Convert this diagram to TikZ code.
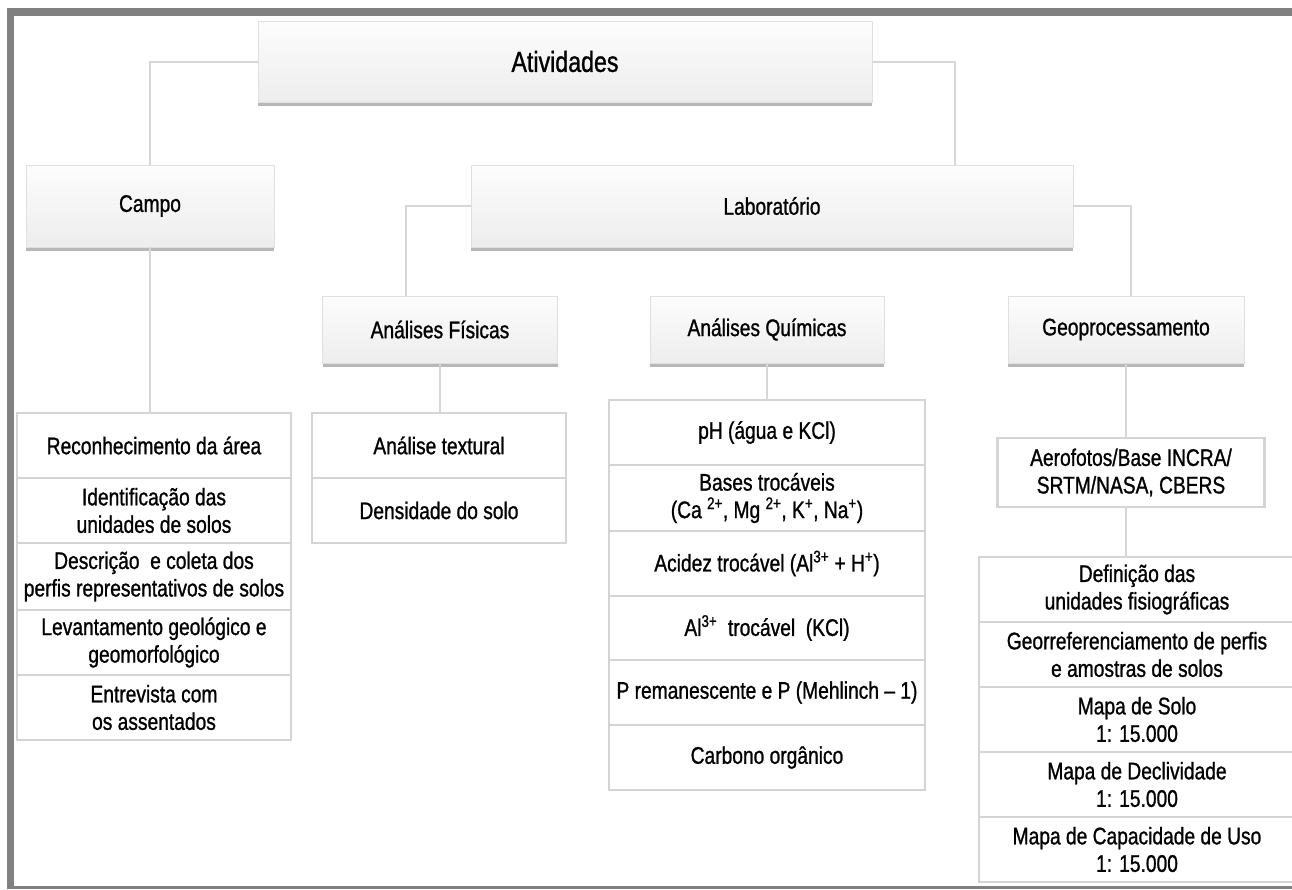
\documentclass[tikz,border=0pt]{standalone}
\usepackage{fontspec}
\setmainfont{Liberation Sans}[FakeStretch=0.8,FakeBold=1]
\usetikzlibrary{shadows,calc}
\newcommand\fsA{\fontsize{24}{27.5}\selectfont}
\newcommand\fsB{\fontsize{29}{32}\selectfont}
\definecolor{framegray}{HTML}{808080}
\definecolor{linegray}{HTML}{D6D6D6}
\definecolor{rowgray}{HTML}{D4D4D4}
\tikzset{
  hdr/.style={rectangle, draw=black!12, line width=1pt, top color=black!1, bottom color=black!7,
    drop shadow={shadow xshift=0pt, shadow yshift=-4pt, fill=black!35, opacity=0.8},
    text=black, inner sep=0pt, outer sep=0pt, font=\fsA},
  rowbox/.style={rectangle, draw=rowgray, line width=2.5pt, fill=white, align=center,
    text=black, inner sep=0pt, outer sep=0pt, font=\fsA},
  link/.style={draw=linegray, line width=2pt},
}
\begin{document}
\begin{tikzpicture}[x=1pt,y=-1pt]
\useasboundingbox (0,0) rectangle (1292,889);
\fill[white] (0,0) rectangle (1292,889);
% frame
\fill[framegray] (7,8) rectangle (1292,16);
\fill[framegray] (7,8) rectangle (14,889);
\fill[framegray] (7,885.5) rectangle (1292,889);

% header boxes
\node[hdr, minimum width=614pt, minimum height=81pt, font=\fsB] (ativ) at (565,61.5) {Atividades};
\node[hdr, minimum width=248pt, minimum height=82pt] (campo) at (150,206) {Campo};
\node[hdr, minimum width=602pt, minimum height=82pt] (lab) at (772,206) {Laboratório};
\node[hdr, minimum width=235pt, minimum height=67pt] (af) at (440,329.5) {Análises Físicas};
\node[hdr, minimum width=234pt, minimum height=67pt] (aq) at (767,329.5) {Análises Químicas};
\node[hdr, minimum width=236pt, minimum height=67pt] (geo) at (1126,329.5) {Geoprocessamento};

% Campo list
\node[rowbox, minimum width=274pt, minimum height=65pt] (c1) at (154,445.5) {Reconhecimento da área};
\node[rowbox, minimum width=274pt, minimum height=65pt] (c2) at (154,510.5) {Identificação das\\unidades de solos};
\node[rowbox, minimum width=274pt, minimum height=67pt] (c3) at (154,576.5) {Descrição\ \ e coleta dos\\perfis representativos de solos};
\node[rowbox, minimum width=274pt, minimum height=65pt] (c4) at (154,642.5) {Levantamento geológico e\\geomorfológico};
\node[rowbox, minimum width=274pt, minimum height=65pt] (c5) at (154,707.5) {Entrevista com\\os assentados};

% Analises Fisicas list
\node[rowbox, minimum width=254pt, minimum height=65pt] (f1) at (439,445.5) {Análise textural};
\node[rowbox, minimum width=254pt, minimum height=65pt] (f2) at (439,510.5) {Densidade do solo};

% Analises Quimicas list
\node[rowbox, minimum width=316pt, minimum height=65pt] (q1) at (767,432.5) {pH (água e KCl)};
\node[rowbox, minimum width=316pt, minimum height=66pt] (q2) at (767,498) {Bases trocáveis\\(Ca \textsuperscript{2+}, Mg \textsuperscript{2+}, K\textsuperscript{+}, Na\textsuperscript{+})};
\node[rowbox, minimum width=316pt, minimum height=65pt] (q3) at (767,563.5) {Acidez trocável (Al\textsuperscript{3+} + H\textsuperscript{+})};
\node[rowbox, minimum width=316pt, minimum height=64pt] (q4) at (767,628) {Al\textsuperscript{3+}\ \ trocável\ \ (KCl)};
\node[rowbox, minimum width=316pt, minimum height=65pt] (q5) at (767,692.5) {P remanescente e P (Mehlinch – 1)};
\node[rowbox, minimum width=316pt, minimum height=65pt] (q6) at (767,757.5) {Carbono orgânico};

% Geoprocessamento
\node[rowbox, minimum width=267pt, minimum height=69pt] (aero) at (1131,472.5) {Aerofotos/Base INCRA/\\SRTM/NASA, CBERS};
\node[rowbox, minimum width=316pt, minimum height=65pt] (g1) at (1137,589.5) {Definição das\\unidades fisiográficas};
\node[rowbox, minimum width=316pt, minimum height=65pt] (g2) at (1137,654.5) {Georreferenciamento de perfis\\e amostras de solos};
\node[rowbox, minimum width=316pt, minimum height=65pt] (g3) at (1137,719.5) {Mapa de Solo\\1: 15.000};
\node[rowbox, minimum width=316pt, minimum height=65pt] (g4) at (1137,784.5) {Mapa de Declividade\\1: 15.000};
\node[rowbox, minimum width=316pt, minimum height=65pt] (g5) at (1137,849.5) {Mapa de Capacidade de Uso\\1: 15.000};

% connectors
\coordinate (labtop) at (955,165);
\coordinate (aftop) at (406,296);
\coordinate (geotop) at (1131,296);
\draw[link] (ativ.west) -| (campo.north);
\draw[link] (ativ.east) -| (labtop);
\draw[link] (lab.west) -| (aftop);
\draw[link] (lab.east) -| (geotop);
\draw[link] (campo.south) -- (campo.south |- c1.north);
\draw[link] (af.south) -- (af.south |- f1.north);
\draw[link] (aq.south) -- (aq.south |- q1.north);
\draw[link] (geo.south) -- (geo.south |- aero.north);
\draw[link] (geo.south |- aero.south) -- (geo.south |- g1.north);
\end{tikzpicture}
\end{document}
